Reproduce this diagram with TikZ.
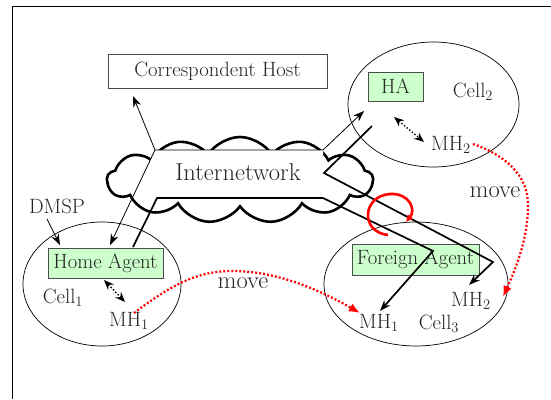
\documentclass[tikz,border=0pt]{standalone}
\usetikzlibrary{arrows.meta,shapes.geometric,shapes.symbols}
\definecolor{agentgreen}{HTML}{CCFFCC}
\begin{document}
\begin{tikzpicture}[x=1pt,y=-1pt,
  every node/.style={text=black!85,font=\fontsize{20.7}{24}\selectfont},
  hostbox/.style={draw=black!70,fill=white,inner sep=0pt},
  agentbox/.style={draw=black!70,fill=agentgreen,inner sep=0pt},
  cellring/.style={draw,ellipse,inner sep=0pt,line width=0.7pt},
  net/.style={cloud,cloud puffs=13,cloud puff arc=115,draw,fill=white,line width=2.6pt,inner sep=0pt},
  bigtext/.style={font=\fontsize{24.5}{28}\selectfont},
  thinarr/.style={line width=0.8pt,-{Stealth[length=11pt,width=8pt]}},
  tunnel/.style={line width=1.7pt,line join=miter,-{Stealth[length=11pt,width=8pt]}},
  shake/.style={line width=1.4pt,dotted,{Stealth[length=10pt,width=8pt]}-{Stealth[length=10pt,width=8pt]}},
  movearr/.style={red,line width=2.2pt,dash pattern=on 2pt off 2pt,-{Latex[length=11pt,width=9pt]}}]
\useasboundingbox (0,0) rectangle (551,399);
\draw[line width=1pt] (12,399) -- (12,6) -- (551,6);
\path
(433.5,104.5) node[cellring,minimum width=171pt,minimum height=125pt] (cell2) {}
(102,284) node[cellring,minimum width=158pt,minimum height=124pt] (cell1) {}
(416,284) node[cellring,minimum width=184pt,minimum height=124pt] (cell3) {}
(240,180) node[net,minimum width=266pt,minimum height=86pt] (net) {}
(155,150) coordinate (tl)
(323,150) coordinate (tr)
(157,198) coordinate (bl)
(323,198) coordinate (br);
\fill[white] (tl) -- (tr) -- (br) -- (bl) -- (138,186) -- cycle;
\path
(217.5,71) node[hostbox,minimum width=219pt,minimum height=34pt] (CH) {Correspondent Host}
(238,172) node[bigtext] (inet) {Internetwork}
(395.5,86.5) node[agentbox,minimum width=55pt,minimum height=29pt] (HA) {HA}
(473,92) node (c2) {Cell\textsubscript{2}}
(451,145) node (mh2a) {MH\textsubscript{2}}
(57,206) node (dmsp) {DMSP}
(105.5,263) node[agentbox,minimum width=115pt,minimum height=30pt] (HAg) {Home Agent}
(63,298) node (c1) {Cell\textsubscript{1}}
(129,321) node (mh1a) {MH\textsubscript{1}}
(415.5,259.5) node[agentbox,minimum width=127pt,minimum height=31pt] (FA) {Foreign Agent}
(471,301) node (mh2b) {MH\textsubscript{2}}
(379,323) node (mh1b) {MH\textsubscript{1}}
(439,324) node (c3) {Cell\textsubscript{3}}
(243,283) node[bigtext] (mv1) {move}
(495,192) node[bigtext] (mv2) {move}
% arrow ends
(133,96) coordinate (ch-in)
(364,111) coordinate (ha-in)
(110,245) coordinate (hag-in)
(47,219) coordinate (dmsp-out)
(60,245) coordinate (hag-dm)
(133,247) coordinate (hag-top)
(433,251) coordinate (fa-knee)
(380,311) coordinate (mh1b-in)
(372,126) coordinate (ha-low)
(324,173) coordinate (zk)
(493,262) coordinate (fa-knee2)
(469,285) coordinate (mh2b-in)
(394,117) coordinate (ha-sh)
(424,142) coordinate (mh2-sh)
(104,280) coordinate (hag-sh)
(125,302) coordinate (mh1-sh)
(134,313) coordinate (mh1a-out)
(360,313) coordinate (mh1b-to)
(473,144) coordinate (mh2a-out)
(503,297) coordinate (mh2b-to)
(388,235) coordinate (curl-a)
(406,222) coordinate (curl-b);
\draw[line width=0.8pt,{Stealth[length=11pt,width=8pt]}-{Stealth[length=11pt,width=8pt]}]
  (ch-in) -- (tl) -- (tr) -- (ha-in);
\draw[thinarr] (tl) -- (hag-in);
\draw[thinarr] (dmsp-out) -- (hag-dm);
\draw[tunnel] (hag-top) -- (bl) -- (br) -- (fa-knee) -- (mh1b-in);
\draw[tunnel] (ha-low) -- (zk) -- (fa-knee2) -- (mh2b-in);
\draw[shake] (ha-sh) -- (mh2-sh);
\draw[shake] (hag-sh) -- (mh1-sh);
\draw[movearr] (mh1a-out) .. controls (175,282) and (200,271) .. (233,271)
                .. controls (280,271) and (325,293) .. (mh1b-to);
\draw[movearr] (mh2a-out) .. controls (505,155) and (528,175) .. (528,205)
                .. controls (528,240) and (515,270) .. (mh2b-to);
%\draw[red] (curl-a) circle (2pt);
\draw[red,line width=2.6pt,-{Latex[length=7pt,width=8pt]}] (curl-a) .. controls (360,232) and (362,196) .. (390,194)
                .. controls (410,193) and (416,210) .. (curl-b);
\end{tikzpicture}
\end{document}
